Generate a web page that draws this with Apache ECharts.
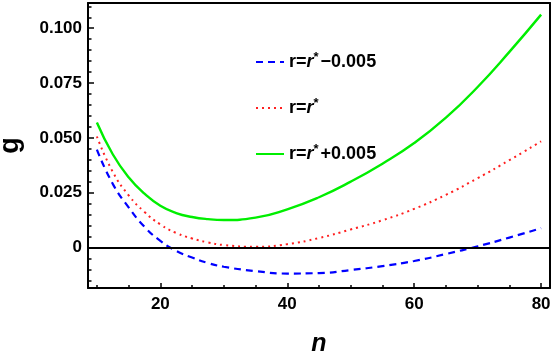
<!DOCTYPE html>
<html>
<head>
<meta charset="utf-8">
<script src="https://cdn.jsdelivr.net/npm/echarts@6.0.0/dist/echarts.min.js"></script>
<style>
  html, body { margin: 0; padding: 0; background: #fff; }
  #chart { width: 554px; height: 351px; }
</style>
</head>
<body>
<div id="chart"></div>
<script>
"use strict";
// n values and g
var nVals = [10, 12.5, 15, 17.5, 20, 22.5, 25, 27.5, 30, 35, 40, 45, 50, 55, 60, 65, 70, 75, 80];
var gLow = [0.0446, 0.0290, 0.0183, 0.0094, 0.0030, -0.0016, -0.0046, -0.0071, -0.0088, -0.0108,
    -0.0119, -0.0117, -0.0103, -0.0085, -0.0062, -0.0030, 0.0005, 0.0045, 0.0088];
var gMid = [0.0506, 0.0345, 0.0238, 0.0162, 0.0105, 0.0066, 0.0041, 0.0023, 0.0011, 0.0003,
    0.0015, 0.0043, 0.0082, 0.0124, 0.0176, 0.0240, 0.0316, 0.0398, 0.0484];
var gHigh = [0.0570, 0.0425, 0.0320, 0.0245, 0.0190, 0.0157, 0.0139, 0.0129, 0.0125, 0.0136,
    0.0174, 0.0229, 0.0300, 0.0382, 0.0476, 0.0592, 0.0732, 0.0892, 0.1062];

var xMajor = [20, 40, 60, 80];
var xMinor = [10, 15, 25, 30, 35, 45, 50, 55, 65, 70, 75];
var yMajor = [0, 0.025, 0.05, 0.075, 0.1];
var yMinor = [-0.015, -0.01, -0.005, 0.005, 0.01, 0.015, 0.02, 0.03, 0.035, 0.04, 0.045,
    0.055, 0.06, 0.065, 0.07, 0.08, 0.085, 0.09, 0.095, 0.105, 0.11];

var names = ["low", "mid", "high"];
var FONT = "'Liberation Sans', Arial, sans-serif";

function pairs(ys) {
    return nVals.map(function (n, i) { return [n, ys[i]]; });
}

var chart = echarts.init(document.getElementById("chart"));

var xmin = 8.6, xmax = 81.4, ymin = -0.0185, ymax = 0.1115;

function xAx(opt) {
    return Object.assign({
        type: "value", min: xmin, max: xmax, position: "bottom",
        splitLine: {show: false},
        axisLine: {show: false, onZero: false},
        axisTick: {show: false},
        axisLabel: {show: false}
    }, opt);
}
function yAx(opt) {
    return Object.assign({
        type: "value", min: ymin, max: ymax, position: "left",
        splitLine: {show: false},
        axisLine: {show: false, onZero: false},
        axisTick: {show: false},
        axisLabel: {show: false}
    }, opt);
}

var legendTxt = {
    low: "r={it|r}{sup|*}\u22120.005",
    mid: "r={it|r}{sup|*}",
    high: "r={it|r}{sup|*}+0.005"
};

var option = {
    animation: false,
    backgroundColor: "#fff",
    grid: {left: 88, right: 4, top: 3, bottom: 63, outerBoundsMode: "none"},
    legend: {
        orient: "vertical",
        left: 250, top: 46,
        itemWidth: 28, itemHeight: 14, itemGap: 24,
        data: names,
        itemStyle: {opacity: 0},
        formatter: function (name) { return legendTxt[name]; },
        textStyle: {
            fontFamily: FONT, fontSize: 18, fontWeight: "bold", color: "#000", lineHeight: 22,
            rich: {
                it: {fontFamily: FONT, fontSize: 18, fontWeight: "bold", fontStyle: "italic", color: "#000", lineHeight: 22},
                sup: {fontFamily: FONT, fontSize: 13, fontWeight: "bold", color: "#000", verticalAlign: "top", lineHeight: 22, padding: [0, 2, 0, 0]}
            }
        }
    },
    xAxis: [
        xAx({
            name: "n", nameLocation: "middle", nameGap: 44,
            nameTextStyle: {fontFamily: FONT, fontSize: 25, fontWeight: "bold", fontStyle: "italic", color: "#000"},
            axisLine: {show: true, onZero: false, lineStyle: {color: "#000", width: 2}},
            axisTick: {show: true, inside: true, length: 5, customValues: xMajor, lineStyle: {color: "#000", width: 1.5}},
            axisLabel: {show: true, customValues: xMajor, margin: 8, fontFamily: FONT, fontSize: 17, fontWeight: "bold", color: "#000"}
        }),
        xAx({axisTick: {show: true, inside: true, length: 3, customValues: xMinor, lineStyle: {color: "#000", width: 1.5}}}),
        xAx({position: "top", axisLine: {show: true, onZero: false, lineStyle: {color: "#000", width: 2}}})
    ],
    yAxis: [
        yAx({
            name: "g", nameLocation: "middle", nameGap: 64,
            nameTextStyle: {fontFamily: FONT, fontSize: 27, fontWeight: "bold", color: "#000"},
            axisLine: {show: true, onZero: false, lineStyle: {color: "#000", width: 2}},
            axisTick: {show: true, inside: true, length: 6, customValues: yMajor, lineStyle: {color: "#000", width: 1.5}},
            axisLabel: {
                show: true, customValues: yMajor, margin: 6,
                fontFamily: FONT, fontSize: 17, fontWeight: "bold", color: "#000",
                formatter: function (v) { return v === 0 ? "0" : v.toFixed(3); }
            }
        }),
        yAx({axisTick: {show: true, inside: true, length: 3.5, customValues: yMinor, lineStyle: {color: "#000", width: 1.5}}}),
        yAx({position: "right", axisLine: {show: true, onZero: false, lineStyle: {color: "#000", width: 2}}})
    ],
    series: [
        {
            name: "low", type: "line", smooth: true, showSymbol: false, symbol: "none",
            data: pairs(gLow), z: 4,
            lineStyle: {color: "#0000ff", width: 2.2, type: [7, 5]},
            itemStyle: {color: "#0000ff"}
        },
        {
            name: "mid", type: "line", smooth: true, showSymbol: false, symbol: "none",
            data: pairs(gMid), z: 4,
            lineStyle: {color: "#ff2020", width: 2, type: [2, 4]},
            itemStyle: {color: "#ff2020"}
        },
        {
            name: "high", type: "line", smooth: true, showSymbol: false, symbol: "none",
            data: pairs(gHigh), z: 4,
            lineStyle: {color: "#00ee00", width: 2.4, type: "solid"},
            itemStyle: {color: "#00ee00"},
            markLine: {
                silent: true, symbol: "none", label: {show: false},
                lineStyle: {color: "#000", width: 2, type: "solid"},
                data: [{yAxis: 0}]
            }
        }
    ]
};

chart.setOption(option);
</script>
</body>
</html>
